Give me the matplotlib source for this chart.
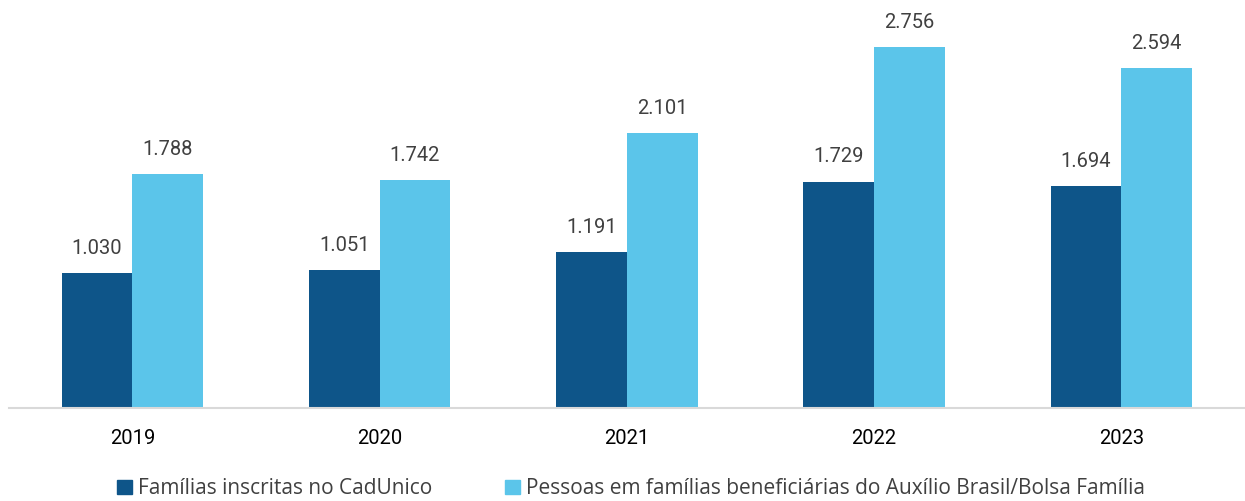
import numpy as np
import matplotlib.pyplot as plt
from matplotlib.patches import Patch

# Data
anos = ['2019', '2020', '2021', '2022', '2023']
familias_cadunico = [1030, 1051, 1191, 1729, 1694]
pessoas_auxilio = [1788, 1742, 2101, 2756, 2594]
rotulos = ['Famílias inscritas no CadUnico',
           'Pessoas em famílias beneficiárias do Auxílio Brasil/Bolsa Família']

COR_ESCURA = '#0E5589'
COR_CLARA = '#5BC5EA'
COR_TEXTO = '#404040'

fig = plt.figure(figsize=(12.45, 5.01), dpi=100)
ax = fig.add_axes([0.007, 0.1856, 0.993, 0.8144])

x = np.arange(len(anos))
w = 0.286
b1 = ax.bar(x - w / 2, familias_cadunico, w, color=COR_ESCURA)
b2 = ax.bar(x + w / 2, pessoas_auxilio, w, color=COR_CLARA)

def fmt(v):
    return f'{v:,}'.replace(',', '.')

for bars, vals in ((b1, familias_cadunico), (b2, pessoas_auxilio)):
    for rect, v in zip(bars, vals):
        ax.annotate(fmt(v), (rect.get_x() + rect.get_width() / 2, v),
                    xytext=(0, 11), textcoords='offset points',
                    ha='center', va='bottom', fontsize=14.5,
                    family='Roboto', color=COR_TEXTO)

ax.set_xlim(-0.5, len(anos) - 0.5)
ax.set_ylim(0, 3115)
ax.set_yticks([])
ax.set_xticks(x)
ax.set_xticklabels(anos, fontsize=14.5, family='Roboto', color='#000000')
ax.tick_params(axis='x', length=0, pad=15)
for s in ('top', 'right', 'left'):
    ax.spines[s].set_visible(False)
ax.spines['bottom'].set_color('#D9D9D9')
ax.spines['bottom'].set_linewidth(1.5)

handles = [Patch(color=COR_ESCURA), Patch(color=COR_CLARA)]
fig.legend(handles, rotulos, loc='center', bbox_to_anchor=(0.507, 0.024),
           ncol=2, frameon=False, handlelength=0.7, handleheight=0.7,
           handletextpad=0.3, columnspacing=3.5,
           prop={'family': 'Open Sans', 'size': 15}, labelcolor=COR_TEXTO)

fig.savefig('out.png', dpi=100)
